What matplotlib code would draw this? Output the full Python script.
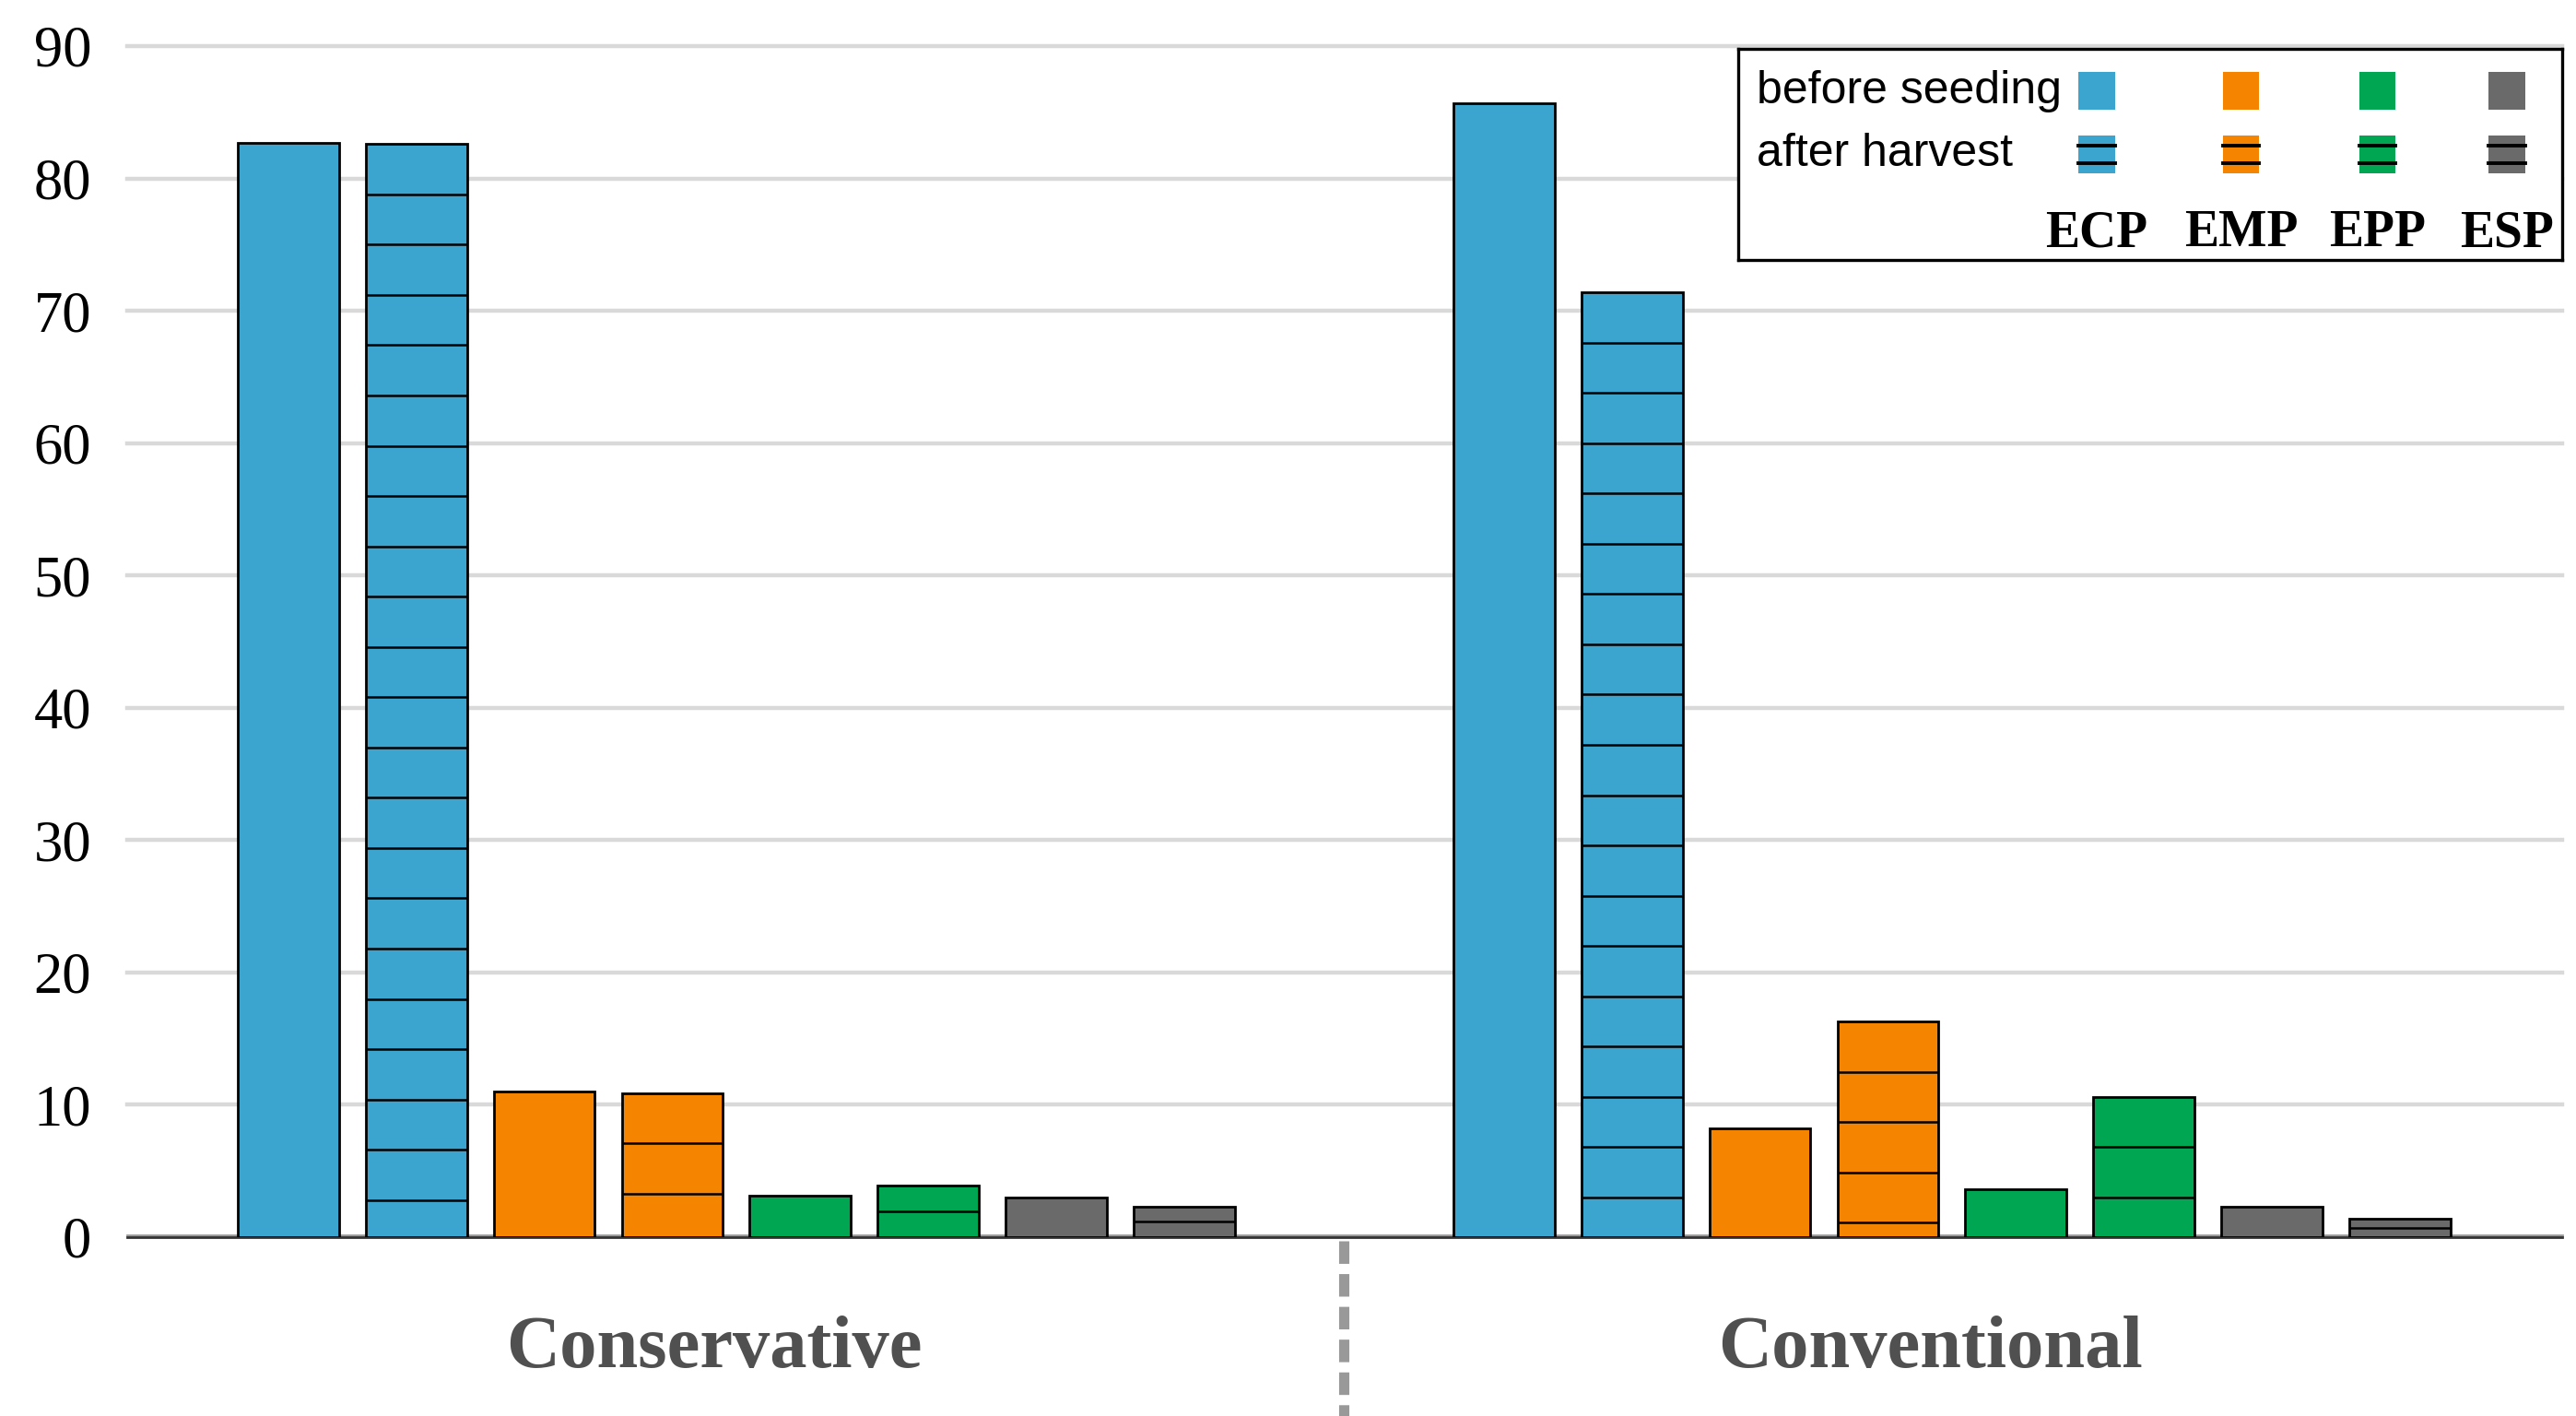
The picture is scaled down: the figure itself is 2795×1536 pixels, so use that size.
import matplotlib
matplotlib.use("Agg")
import matplotlib.pyplot as plt
from matplotlib.patches import Rectangle
import numpy as np

# ---- data ----
groups = ["Conservative", "Conventional"]
fractions = ["ECP", "EMP", "EPP", "ESP"]
before_seeding = {
    "Conservative": [82.7, 11.0, 3.1, 3.0],
    "Conventional": [85.7, 8.2, 3.6, 2.3],
}
after_harvest = {
    "Conservative": [82.6, 10.9, 3.9, 2.3],
    "Conventional": [71.4, 16.3, 10.6, 1.4],
}
yticks = [0, 10, 20, 30, 40, 50, 60, 70, 80, 90]

# ---- style ----
colors = ["#3BA5CF", "#F58400", "#00A651", "#6A6A6A"]
hatch_step = 3.8
bar_w = 0.79
group_gap = 1.5
DPI = 200
W, H = 2795, 1536

fig = plt.figure(figsize=(W / DPI, H / DPI), dpi=DPI)
ax = fig.add_axes([138 / W, 1 - 1342 / H, (2780 - 138) / W, (1342 - 50) / H])

n_per_group = 2 * len(fractions)
group_centers = []
for g, grp in enumerate(groups):
    base = g * (n_per_group + group_gap)
    xs = []
    for i, frac in enumerate(fractions):
        for j, (vals, hatched) in enumerate([(before_seeding, False), (after_harvest, True)]):
            x = base + 2 * i + j
            h = vals[grp][i]
            xs.append(x)
            ax.bar(x, h, width=bar_w, color=colors[i], edgecolor="black",
                   linewidth=1.0, zorder=3)
            if hatched:
                step = min(hatch_step, h / 2)
                levels = []
                k = 1
                while h - k * step > 0.25 * step:
                    levels.append(h - k * step)
                    k += 1
                if levels:
                    ax.hlines(levels, x - bar_w / 2, x + bar_w / 2, colors="black",
                              linewidth=0.9, zorder=4)
    group_centers.append((min(xs) + max(xs)) / 2)

first_x = 0
last_x = (len(groups) - 1) * (n_per_group + group_gap) + n_per_group - 1
ax.set_xlim(first_x - 1.26, last_x + 1.27)
ax.set_ylim(0, 90)

ax.set_yticks(yticks)
ax.set_yticklabels([str(t) for t in yticks], fontfamily="Liberation Serif", fontsize=22.5)
ax.tick_params(axis="y", length=0, pad=14)
ax.set_xticks([])
for s in ["top", "right", "left"]:
    ax.spines[s].set_visible(False)
ax.spines["bottom"].set_color("#333333")
ax.spines["bottom"].set_linewidth(1.0)

for t in yticks:
    ax.axhline(t + (0.12 if t == 0 else 0), color="#d9d9d9" if t else "#999999",
               linewidth=1.6 if t else 1.0, zorder=1, clip_on=False)

# group labels
for c, grp in zip(group_centers, groups):
    ax.text(c - 0.17, -0.094, grp, transform=ax.get_xaxis_transform(), ha="center", va="center",
            fontfamily="Liberation Serif", fontweight="bold", fontsize=29, color="#505050")

# dashed separator
sep_x = (group_centers[0] + group_centers[1]) / 2
ax.plot([sep_x, sep_x], [-0.003, -0.16], transform=ax.get_xaxis_transform(),
        color="#999999", linewidth=4.0, linestyle=(0, (2.2, 1.0)), clip_on=False, zorder=2)

# ---- custom legend ----
lax = fig.add_axes([1886 / W, 1 - 282 / H, 894 / W, 229 / H])
lax.set_xlim(0, 1)
lax.set_ylim(0, 1)
lax.set_xticks([])
lax.set_yticks([])
for s in lax.spines.values():
    s.set_linewidth(1.2)
    s.set_color("black")
lax.set_facecolor("white")

col_x = [0.435, 0.610, 0.776, 0.933]
row_y = [0.80, 0.50]
sq_w, sq_h = 0.044, 0.179
lax.text(0.022, row_y[0], "before seeding", ha="left", va="center",
         fontfamily="Liberation Sans", fontsize=18)
lax.text(0.022, row_y[1], "after harvest", ha="left", va="center",
         fontfamily="Liberation Sans", fontsize=18)
for cx, col, frac in zip(col_x, colors, fractions):
    lax.add_patch(Rectangle((cx - sq_w / 2, row_y[0] - sq_h / 2), sq_w, sq_h,
                            facecolor=col, edgecolor="none"))
    lax.add_patch(Rectangle((cx - sq_w / 2, row_y[1] - sq_h / 2), sq_w, sq_h,
                            facecolor=col, edgecolor="none"))
    for f in (0.28, 0.72):
        yy = row_y[1] - sq_h / 2 + f * sq_h
        lax.plot([cx - sq_w / 2, cx + sq_w / 2], [yy, yy], color="black", linewidth=1.4)
    lax.text(cx, 0.125, frac, ha="center", va="center", fontfamily="Liberation Serif",
             fontweight="bold", fontsize=20)

fig.savefig("out.png", dpi=DPI, facecolor="white")
